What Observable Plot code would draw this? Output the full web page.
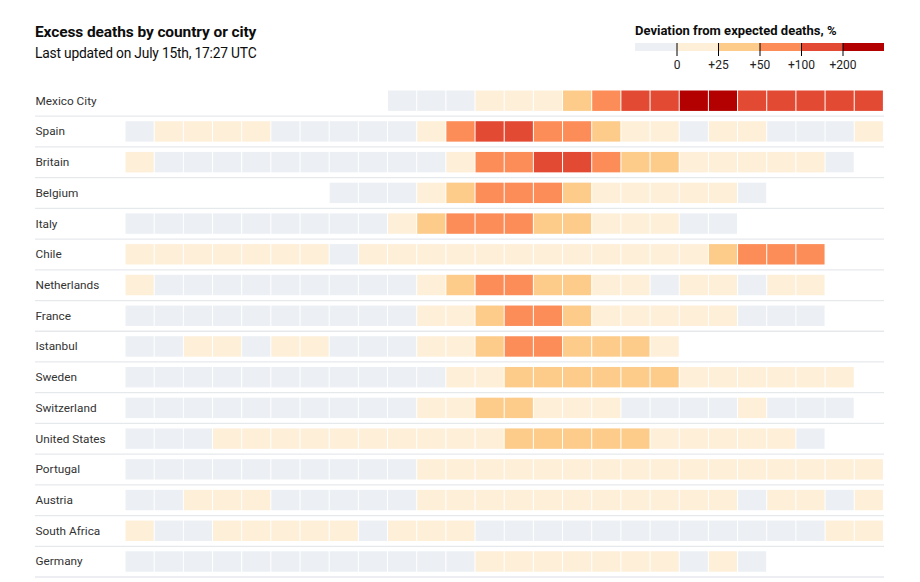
<!DOCTYPE html>
<html>
<head>
<meta charset="utf-8">
<script src="https://cdn.jsdelivr.net/npm/d3@7"></script>
<script src="https://cdn.jsdelivr.net/npm/@observablehq/plot@0.6"></script>
<style>
  html, body { margin: 0; padding: 0; background: #fff; overflow: hidden; }
  body { width: 920px; height: 582px; font-family: Roboto, sans-serif; }
  svg { display: block; }
  #header { position: relative; height: 80px; }
  #title { position: absolute; left: 35px; top: 23px; font-size: 15.5px; font-weight: bold; color: #0d0d0d; line-height: 18px; white-space: nowrap; letter-spacing: -0.1px; }
  #subtitle { position: absolute; left: 35px; top: 44px; font-size: 13.8px; color: #0d0d0d; line-height: 18px; white-space: nowrap; letter-spacing: -0.2px; }
  #legend-title { position: absolute; left: 635px; top: 23px; font-size: 13px; font-weight: bold; color: #0d0d0d; line-height: 15px; white-space: nowrap; }
  #legend { position: absolute; left: 635px; top: 38px; }
</style>
</head>
<body>
<div id="header">
  <div id="title">Excess deaths by country or city</div>
  <div id="subtitle">Last updated on July 15th, 17:27 UTC</div>
  <div id="legend-title">Deviation from expected deaths, %</div>
  <div id="legend"></div>
</div>
<div id="chart"></div>
<script>
// ---- data ----
const countries = ["Mexico City","Spain","Britain","Belgium","Italy","Chile","Netherlands","France","Istanbul","Sweden","Switzerland","United States","Portugal","Austria","South Africa","Germany"];
const weeks = d3.range(26);
const _ = null;
// estimated deviation from expected deaths, %, per week column
const mexicoCity   = [_,_,_,_,_,_,_,_,_,-4,-3,-2,8,14,21,42,85,130,170,240,260,190,160,150,140,130];
const spain        = [-3,5,4,6,3,-2,-4,-3,-5,-2,10,70,120,150,90,55,30,10,5,-3,4,2,-2,-4,-1,3];
const britain      = [3,-4,-5,-3,-6,-4,-2,-5,-3,-4,-2,15,60,85,110,105,60,40,28,15,10,8,5,3,-2,_];
const belgium      = [_,_,_,_,_,_,_,-3,-5,-2,15,40,70,90,65,30,15,10,8,5,3,-3,_,_,_,_];
const italy        = [-4,-3,-5,-2,-6,-4,-3,-5,-2,10,35,60,80,70,45,30,18,10,5,-3,-4,_,_,_,_,_];
const chile        = [5,8,6,4,7,3,5,-2,6,8,10,12,14,15,16,18,20,18,20,22,40,60,75,65,_,_];
const netherlands  = [4,-3,-5,-4,-6,-3,-2,-4,-5,-2,12,35,60,70,45,30,15,8,-2,5,4,-3,6,3,_,_];
const france       = [-3,-5,-4,-6,-3,-2,-4,-5,-3,-2,10,18,35,60,65,30,15,10,8,5,3,-2,-4,-3,_,_];
const istanbul     = [-2,-3,5,4,-2,6,3,-4,-3,-2,10,20,40,60,55,35,30,28,12,_,_,_,_,_,_,_];
const sweden       = [-3,-5,-4,-6,-3,-2,-4,-5,-3,-4,-2,10,20,35,40,38,32,30,28,15,12,10,8,5,4,_];
const switzerland  = [-3,-4,-5,-3,-6,-2,-4,-5,-3,-2,10,20,40,35,18,10,5,-2,-3,-4,-2,3,-2,-3,-4,_];
const unitedStates = [-2,-4,-3,5,4,6,3,5,4,6,8,12,20,30,35,35,32,28,18,15,12,8,5,-2,_,_];
const portugal     = [-3,-4,-5,-3,-6,-2,-4,-5,-3,-2,8,10,12,15,18,14,12,10,8,10,14,16,15,12,10,8];
const austria      = [-3,-2,4,5,3,-4,-5,-3,-2,-4,8,15,20,18,12,10,8,6,5,4,3,-2,3,4,-3,5];
const southAfrica  = [3,-4,-3,5,4,6,3,5,-2,4,6,5,-3,-4,-5,-3,-6,-2,-4,-5,-3,-2,-4,-3,6,8];
const germany      = [-3,-5,-4,-6,-3,-2,-4,-5,-3,-4,-2,-3,5,10,12,8,6,4,3,-2,3,-3,_,_,_,_];
const seriesValues = [mexicoCity, spain, britain, belgium, italy, chile, netherlands, france, istanbul, sweden, switzerland, unitedStates, portugal, austria, southAfrica, germany];
const thresholds = [0, 25, 50, 100, 200];
const tickLabels = ["0", "+25", "+50", "+100", "+200"];
const palette = ["#ecf0f4", "#feefd9", "#fdcc8a", "#fc8d59", "#e34a33", "#b30000"];

// ---- table ----
const cells = [];
countries.forEach((c, r) => seriesValues[r].forEach((v, w) => { if (v != null) cells.push({country: c, week: w, value: v}); }));

const font = 'Roboto, sans-serif';

// ---- main chart ----
const chart = Plot.plot({
  width: 920,
  height: 502,
  marginLeft: 35,
  marginRight: 36,
  marginTop: 5,
  marginBottom: 5.5,
  style: {fontFamily: font, background: "white"},
  x: {type: "band", domain: weeks, range: [125, 883.4], padding: 0, round: false, axis: null},
  y: {type: "band", domain: countries, padding: 0, round: false, axis: null},
  color: {type: "threshold", domain: thresholds, range: palette},
  marks: [
    Plot.ruleY(countries, {y: d => d, dy: 15.36, stroke: "#e6e9ec", strokeWidth: 1.3}),
    Plot.cell(cells, {x: "week", y: "country", fill: "value", insetTop: 5.5, insetBottom: 4.8, insetLeft: 0.5, insetRight: 0.5}),
    Plot.text(countries, {y: d => d, text: d => d, frameAnchor: "left", textAnchor: "start", fontSize: 11.8, fill: "#333", letterSpacing: "-0.2px"})
  ]
});
document.getElementById("chart").appendChild(chart);

// ---- legend ----
const bins = palette.map((color, i) => ({i, color}));
const legend = Plot.plot({
  width: 250,
  height: 34,
  marginLeft: 0, marginRight: 1, marginTop: 5, marginBottom: 21,
  style: {fontFamily: font, background: "transparent", overflow: "visible"},
  x: {type: "linear", domain: [0, palette.length], axis: null},
  y: {axis: null},
  marks: [
    Plot.rectX(bins, {x1: d => d.i, x2: d => d.i + 1, fill: "color"}),
    Plot.ruleX(tickLabels, {x: (d, i) => i + 1, stroke: "#000", strokeWidth: 1, insetBottom: -5}),
    Plot.text(tickLabels, {x: (d, i) => i + 1, text: d => d, frameAnchor: "bottom", dy: 17, fontSize: 12, fill: "#222"})
  ]
});
document.getElementById("legend").appendChild(legend);
</script>
</body>
</html>
